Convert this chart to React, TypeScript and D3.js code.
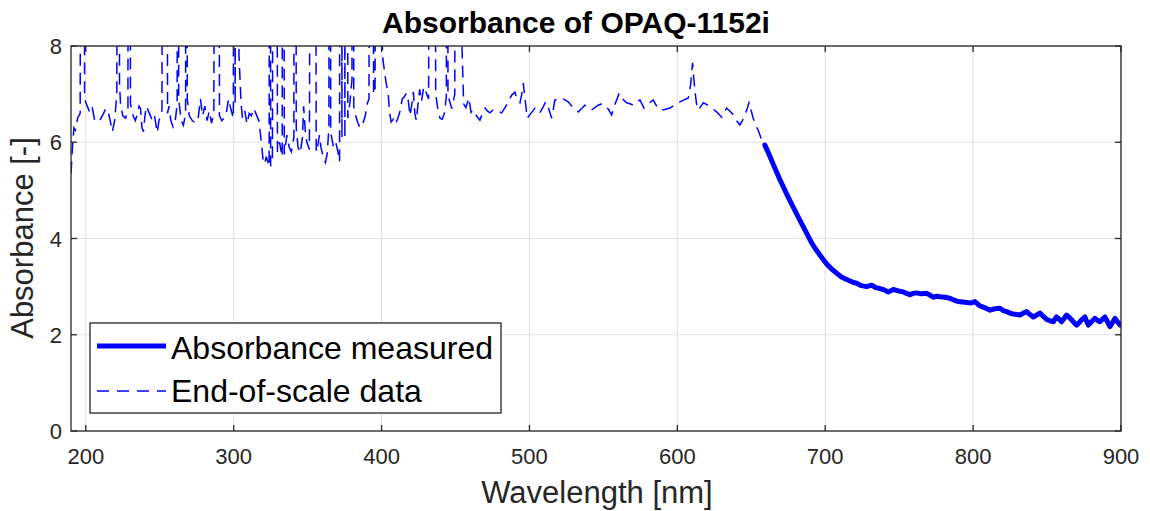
import React from "react";
import * as d3 from "d3";

const chartTitle = "Absorbance of OPAQ-1152i";
const xLabel = "Wavelength [nm]";
const yLabel = "Absorbance [-]";
const legendLabels = ["Absorbance measured", "End-of-scale data"];

const wavelengthTicks = [200, 300, 400, 500, 600, 700, 800, 900];
const absorbanceTicks = [0, 2, 4, 6, 8];

// End-of-scale (saturated) data: [wavelength nm, absorbance]; 40 = off-scale spike
const endOfScaleData: [number, number][] = [
  [190, 5.35], [191, 5.9], [192, 6.3], [193, 6.25], [194.5, 6.5], [196.2, 6.6], [197.7, 40], [199.2, 6.9],
  [201, 6.75], [203, 6.6], [204.5, 6.7], [206, 6.45], [208, 6.42], [210, 6.48], [212, 6.6], [213.5, 6.7],
  [215, 6.65], [216.5, 6.45], [218, 6.22], [219.5, 6.45], [221, 7.0], [222.2, 40], [222.8, 7.2], [223.5, 6.8],
  [225, 6.55], [227, 6.5], [228.5, 6.7], [229.4, 40], [230.2, 6.8], [232, 6.55], [233.5, 6.45], [235, 6.6],
  [236, 6.75], [237, 6.7], [238, 6.3], [239, 6.22], [240, 6.55], [241, 6.75], [243, 6.6], [245, 6.45],
  [246.5, 6.55], [248.3, 6.2], [249.5, 6.45], [251.5, 6.65], [253.5, 40], [255.3, 6.6], [256.2, 6.75], [257.5, 6.45],
  [259, 6.32], [260.5, 6.45], [261.8, 6.8], [262.3, 40], [262.8, 6.9], [264.5, 6.45], [266, 6.35], [267.5, 6.6],
  [268, 40], [268.6, 6.9], [270, 6.55], [272, 6.45], [274, 6.4], [276, 6.5], [277.5, 6.9], [279, 6.55],
  [280.5, 6.75], [282, 6.45], [283.5, 6.65], [285, 6.4], [286.6, 6.6], [288.5, 40], [290.4, 6.55], [292, 6.45],
  [293.5, 6.5], [295, 6.6], [296.5, 6.9], [298, 6.7], [299.8, 6.5], [300.4, 40], [301, 6.8], [302.4, 40],
  [303.6, 7.8], [305, 6.8], [306, 6.5], [307.5, 6.65], [309, 6.38], [310.5, 6.6], [312, 6.55], [313.5, 6.7],
  [315, 6.6], [317, 6.45], [318, 6.2], [319, 5.9], [320, 5.6], [321, 5.55], [322, 5.7], [323, 5.6],
  [324, 5.5], [324.5, 40], [325, 5.5], [326.2, 5.65], [328, 40], [329.6, 5.8], [331, 6.0], [332.8, 5.7],
  [333.5, 40], [334.2, 5.75], [336, 6.15], [337.5, 5.9], [339, 5.8], [340.7, 6.1], [341.5, 40], [342.3, 6.3],
  [343.5, 5.9], [345, 5.78], [346.5, 6.1], [347.3, 6.75], [348.5, 6.2], [349.5, 6.0], [351.2, 5.85], [354, 40],
  [355.8, 5.8], [356.5, 5.85], [358, 6.15], [359, 5.9], [360.5, 5.7], [362, 5.58], [363.2, 5.75], [364.4, 6.3],
  [365, 40], [365.6, 6.2], [367.5, 5.9], [369, 6.0], [370.5, 5.8], [371.6, 5.6], [372.3, 40], [373.2, 6.1],
  [374.2, 40], [375.2, 6.1], [376.2, 40], [377.2, 6.5], [378.5, 6.8], [380, 7.3], [380.5, 40], [381.2, 6.75],
  [382.5, 6.55], [384, 6.4], [385.5, 6.3], [387, 6.35], [389, 6.55], [390.3, 6.8], [391.5, 6.9], [393, 40],
  [394.6, 7.0], [395.6, 7.05], [397.5, 40], [399.4, 8.6], [401, 7.7], [403, 7.25], [404.5, 7.0], [405.5, 6.6],
  [406.5, 6.42], [408, 6.48], [409.5, 6.38], [411, 6.5], [412.5, 6.65], [414, 6.9], [415.5, 6.95], [416.8, 7.02],
  [418, 6.88], [419.2, 6.55], [420.5, 6.8], [421.5, 7.05], [422.5, 6.6], [423.5, 6.45], [424.5, 6.75], [425.8, 7.1],
  [427, 6.85], [428.5, 7.15], [430, 7.05], [431.8, 6.9], [434.3, 40], [436.6, 7.0], [438, 6.7], [439.5, 6.5],
  [441, 6.48], [442.5, 6.6], [443.8, 6.95], [444.3, 40], [444.9, 7.0], [446, 6.85], [447.5, 6.7], [449.5, 7.0],
  [451.8, 40], [453.8, 8.6], [455.5, 6.8], [457, 6.72], [459, 6.92], [460.5, 6.62], [462, 6.67], [464.2, 6.55],
  [466.5, 6.46], [468.2, 6.6], [470, 6.71], [471.5, 6.65], [473.3, 6.61], [475, 6.66], [476.7, 6.67], [479, 6.64],
  [481.2, 6.61], [483.5, 6.72], [485.7, 6.84], [488, 6.98], [490.2, 7.04], [491.5, 6.9], [493.6, 6.82], [494.8, 7.0],
  [495.8, 7.23], [497, 6.9], [498.5, 6.5], [501, 6.6], [503.7, 6.71], [505.5, 6.65], [507, 6.61], [509, 6.72],
  [511, 6.84], [513, 6.7], [515, 6.5], [516.2, 6.7], [517.2, 6.88], [519.5, 6.9], [521.8, 6.92], [524, 6.88],
  [526.2, 6.84], [529.5, 6.72], [533, 6.63], [535.3, 6.7], [537.5, 6.77], [540, 6.72], [542, 6.67], [544.2, 6.72],
  [546.5, 6.77], [549, 6.8], [551, 6.77], [553.5, 6.68], [555.6, 6.57], [558, 6.8], [560.7, 7.02], [563, 6.9],
  [565.7, 6.82], [568, 6.8], [570.2, 6.77], [572.5, 6.83], [574.7, 6.88], [577.4, 6.71], [580.5, 6.8], [583.7, 6.88],
  [586, 6.75], [588.2, 6.67], [591.5, 6.68], [595, 6.71], [598.5, 6.78], [601.8, 6.84], [604.5, 6.88], [607.4, 6.92],
  [609, 7.2], [610.3, 7.65], [611.2, 7.3], [612, 7.04], [613, 6.8], [614.2, 6.67], [616, 6.75], [617.6, 6.82],
  [620, 6.78], [622, 6.73], [624.5, 6.68], [626.6, 6.63], [628.5, 6.57], [630, 6.52], [631.7, 6.62], [633.3, 6.71],
  [635.5, 6.65], [637.8, 6.57], [640, 6.45], [642.3, 6.36], [644, 6.45], [645.7, 6.57], [647.3, 6.7], [648.6, 6.84],
  [650, 6.65], [651.3, 6.5], [653, 6.35], [654.7, 6.25], [657, 6.05], [659.2, 5.94],
];

// Measured absorbance: [wavelength nm, absorbance]
const measuredData: [number, number][] = [
  [659.2, 5.94], [662, 5.75], [665, 5.53], [669.4, 5.22], [674, 4.92], [678.2, 4.66], [683, 4.37], [687.4, 4.11],
  [691, 3.9], [694.2, 3.75], [698, 3.59], [701, 3.47], [704.5, 3.36], [707.7, 3.28], [711, 3.2], [714.5, 3.15],
  [718, 3.1], [721.2, 3.07], [724.5, 3.02], [728, 3.0], [731.4, 3.03], [734, 2.98], [737, 2.96], [740, 2.93],
  [742.6, 2.89], [746, 2.94], [749.5, 2.91], [752.8, 2.89], [755, 2.86], [757.3, 2.83], [759.5, 2.86], [761.8, 2.87],
  [765, 2.85], [768.6, 2.86], [771, 2.82], [773, 2.78], [775.5, 2.8], [777.6, 2.79], [781, 2.78], [784.3, 2.76],
  [787, 2.72], [790, 2.69], [793, 2.68], [795.6, 2.67], [798.5, 2.66], [801.2, 2.69], [803, 2.64], [804.6, 2.6],
  [808, 2.56], [811.4, 2.51], [814.8, 2.54], [818.1, 2.55], [820.5, 2.5], [822.7, 2.48], [825, 2.45], [827.1, 2.43],
  [829.5, 2.42], [831.7, 2.41], [834, 2.45], [836.2, 2.48], [838.5, 2.42], [840.6, 2.37], [843, 2.41], [845.2, 2.45],
  [847.5, 2.38], [849.7, 2.32], [852, 2.29], [854.2, 2.27], [856.4, 2.37], [858, 2.33], [859.8, 2.27], [861.5, 2.34],
  [863.2, 2.41], [865, 2.36], [866.6, 2.31], [868.3, 2.25], [870, 2.2], [871.7, 2.25], [873.3, 2.31], [875.6, 2.37],
  [877.9, 2.2], [880, 2.27], [882.4, 2.34], [884, 2.3], [885.7, 2.27], [887.4, 2.32], [889.1, 2.37], [890.8, 2.27],
  [892.5, 2.17], [894.2, 2.25], [895.9, 2.34], [897.6, 2.27], [899.3, 2.2], [900, 2.22],
];

const W = 1150;
const H = 511;
const plot = { left: 71, right: 1121, top: 46, bottom: 431 };
const AXIS = "#262626";
const GRID = "#e3e3e3";
const BLUE = "#0000ff";
const FONT = "'Liberation Sans', Arial, Helvetica, sans-serif";

export default function App() {
  const x = d3.scaleLinear().domain([190, 900]).range([plot.left, plot.right]);
  const y = d3.scaleLinear().domain([0, 8]).range([plot.bottom, plot.top]);
  const line = d3
    .line<[number, number]>()
    .x((d) => x(d[0]))
    .y((d) => y(d[1]));
  const tickLen = 6;

  return (
    <svg
      width={W}
      height={H}
      style={{ position: "absolute", left: 0, top: 0, background: "#fff" }}
      fontFamily={FONT}
    >
      <defs>
        <clipPath id="plotClip">
          <rect x={plot.left} y={plot.top} width={plot.right - plot.left} height={plot.bottom - plot.top} />
        </clipPath>
      </defs>
      <rect x={0} y={0} width={W} height={H} fill="#fff" />
      {/* grid */}
      {wavelengthTicks.map((t) => (
        <line key={"gx" + t} x1={x(t)} x2={x(t)} y1={plot.top} y2={plot.bottom} stroke={GRID} strokeWidth={1.2} />
      ))}
      {absorbanceTicks.map((t) => (
        <line key={"gy" + t} x1={plot.left} x2={plot.right} y1={y(t)} y2={y(t)} stroke={GRID} strokeWidth={1.2} />
      ))}
      {/* data */}
      <g clipPath="url(#plotClip)">
        <path d={line(endOfScaleData) || ""} fill="none" stroke={BLUE} strokeWidth={1.5} strokeDasharray="12 7" />
        <path
          d={line(measuredData) || ""}
          fill="none"
          stroke={BLUE}
          strokeWidth={5}
          strokeLinejoin="round"
          strokeLinecap="round"
        />
      </g>
      {/* axes box */}
      <rect
        x={plot.left}
        y={plot.top}
        width={plot.right - plot.left}
        height={plot.bottom - plot.top}
        fill="none"
        stroke={AXIS}
        strokeWidth={1.3}
      />
      {wavelengthTicks.map((t) => (
        <g key={"tx" + t}>
          <line x1={x(t)} x2={x(t)} y1={plot.bottom} y2={plot.bottom - tickLen} stroke={AXIS} strokeWidth={1.3} />
          <line x1={x(t)} x2={x(t)} y1={plot.top} y2={plot.top + tickLen} stroke={AXIS} strokeWidth={1.3} />
          <text x={x(t)} y={plot.bottom + 33} textAnchor="middle" fontSize={22} fill={AXIS}>
            {t}
          </text>
        </g>
      ))}
      {absorbanceTicks.map((t) => (
        <g key={"ty" + t}>
          <line x1={plot.left} x2={plot.left + tickLen} y1={y(t)} y2={y(t)} stroke={AXIS} strokeWidth={1.3} />
          <line x1={plot.right} x2={plot.right - tickLen} y1={y(t)} y2={y(t)} stroke={AXIS} strokeWidth={1.3} />
          <text x={plot.left - 9} y={y(t) + 8} textAnchor="end" fontSize={22} fill={AXIS}>
            {t}
          </text>
        </g>
      ))}
      {/* labels */}
      <text x={576} y={33} textAnchor="middle" fontSize={30} fontWeight="bold" fill="#000">
        {chartTitle}
      </text>
      <text x={597} y={503} textAnchor="middle" fontSize={31} fill={AXIS}>
        {xLabel}
      </text>
      <text
        transform={`translate(33, 238) rotate(-90)`}
        textAnchor="middle"
        fontSize={31}
        fill={AXIS}
      >
        {yLabel}
      </text>
      {/* legend */}
      <g>
        <rect x={90} y={323} width={411} height={90} fill="#fff" stroke={AXIS} strokeWidth={1.3} />
        <line x1={97} x2={166} y1={346} y2={346} stroke={BLUE} strokeWidth={5} />
        <line x1={97} x2={166} y1={391} y2={391} stroke={BLUE} strokeWidth={1.5} strokeDasharray="12 8" />
        <text x={171} y={359} fontSize={32} fill="#000">
          {legendLabels[0]}
        </text>
        <text x={171} y={402} fontSize={32} fill="#000">
          {legendLabels[1]}
        </text>
      </g>
    </svg>
  );
}
